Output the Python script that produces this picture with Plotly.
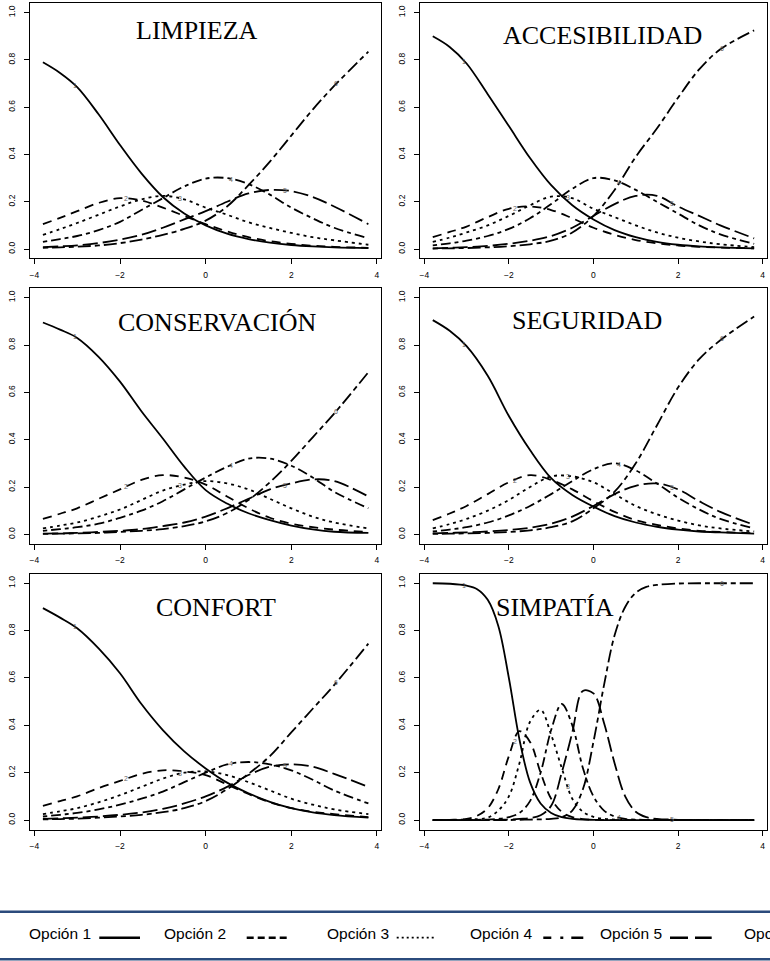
import numpy as np
import plotly.graph_objects as go

# ---------------- data ----------------
THETA = [-3.8, -3.4, -3, -2.5, -2, -1.5, -1, -0.5, 0, 0.5, 1, 1.5, 2, 2.5, 3, 3.8]
THETA_S = [-3.8, -3.4, -3, -2.75, -2.5, -2.25, -2, -1.75, -1.5, -1.25, -1, -0.75, -0.5,
           -0.25, 0, 0.25, 0.5, 0.75, 1, 1.25, 1.5, 2, 2.5, 3, 3.8]

OPTIONS = ["Opción 1", "Opción 2", "Opción 3", "Opción 4", "Opción 5", "Opción 6"]
X_TICKS = [-4, -2, 0, 2, 4]
Y_TICKS = [0, 0.2, 0.4, 0.6, 0.8, 1.0]
CURVE_LABELS = ["1", "2", "3", "4", "5", "6"]
LABEL_THETA = [-3.05, -1.85, -0.6, 0.6, 1.85, 3.05]

LIMPIEZA_1 = [0.79, 0.745, 0.685, 0.57, 0.44, 0.32, 0.22, 0.15, 0.10, 0.065, 0.042, 0.027, 0.017, 0.011, 0.007, 0.004]
LIMPIEZA_2 = [0.105, 0.132, 0.16, 0.195, 0.215, 0.205, 0.175, 0.14, 0.105, 0.075, 0.05, 0.033, 0.022, 0.014, 0.009, 0.005]
LIMPIEZA_3 = [0.06, 0.084, 0.11, 0.145, 0.18, 0.21, 0.225, 0.21, 0.175, 0.145, 0.113, 0.089, 0.068, 0.05, 0.037, 0.018]
LIMPIEZA_4 = [0.03, 0.042, 0.055, 0.08, 0.115, 0.165, 0.215, 0.265, 0.298, 0.30, 0.275, 0.23, 0.175, 0.13, 0.09, 0.045]
LIMPIEZA_5 = [0.008, 0.011, 0.015, 0.025, 0.04, 0.06, 0.09, 0.125, 0.16, 0.2, 0.235, 0.25, 0.245, 0.22, 0.18, 0.105]
LIMPIEZA_6 = [0.005, 0.007, 0.01, 0.015, 0.025, 0.04, 0.06, 0.085, 0.12, 0.18, 0.27, 0.37, 0.48, 0.59, 0.69, 0.835]

ACCES_1 = [0.90, 0.855, 0.785, 0.655, 0.52, 0.385, 0.27, 0.185, 0.125, 0.08, 0.05, 0.03, 0.018, 0.011, 0.007, 0.003]
ACCES_2 = [0.05, 0.072, 0.095, 0.135, 0.17, 0.18, 0.165, 0.13, 0.09, 0.06, 0.038, 0.024, 0.015, 0.009, 0.006, 0.003]
ACCES_3 = [0.03, 0.048, 0.07, 0.10, 0.14, 0.185, 0.222, 0.215, 0.17, 0.135, 0.10, 0.07, 0.048, 0.032, 0.02, 0.008]
ACCES_4 = [0.015, 0.024, 0.035, 0.055, 0.085, 0.13, 0.19, 0.255, 0.30, 0.29, 0.25, 0.2, 0.15, 0.1, 0.062, 0.022]
ACCES_5 = [0.003, 0.005, 0.008, 0.013, 0.022, 0.035, 0.055, 0.09, 0.14, 0.19, 0.225, 0.225, 0.18, 0.14, 0.1, 0.045]
ACCES_6 = [0.002, 0.003, 0.004, 0.007, 0.012, 0.02, 0.035, 0.07, 0.14, 0.25, 0.39, 0.51, 0.64, 0.76, 0.845, 0.925]

CONSERV_1 = [0.895, 0.865, 0.83, 0.75, 0.645, 0.52, 0.405, 0.286, 0.187, 0.13, 0.089, 0.06, 0.037, 0.021, 0.011, 0.006]
CONSERV_2 = [0.065, 0.087, 0.11, 0.15, 0.19, 0.23, 0.25, 0.24, 0.21, 0.16, 0.11, 0.07, 0.045, 0.03, 0.02, 0.01]
CONSERV_3 = [0.025, 0.037, 0.05, 0.075, 0.105, 0.145, 0.185, 0.21, 0.225, 0.215, 0.19, 0.15, 0.11, 0.075, 0.05, 0.025]
CONSERV_4 = [0.015, 0.022, 0.03, 0.045, 0.07, 0.1, 0.14, 0.19, 0.24, 0.285, 0.32, 0.32, 0.29, 0.24, 0.18, 0.11]
CONSERV_5 = [0.003, 0.004, 0.006, 0.01, 0.015, 0.022, 0.035, 0.05, 0.075, 0.11, 0.15, 0.19, 0.215, 0.232, 0.225, 0.16]
CONSERV_6 = [0.002, 0.003, 0.004, 0.006, 0.01, 0.015, 0.022, 0.035, 0.055, 0.09, 0.145, 0.22, 0.31, 0.41, 0.51, 0.685]

SEGUR_1 = [0.905, 0.86, 0.795, 0.67, 0.50, 0.356, 0.237, 0.166, 0.117, 0.077, 0.05, 0.032, 0.02, 0.012, 0.008, 0.003]
SEGUR_2 = [0.06, 0.088, 0.12, 0.17, 0.22, 0.25, 0.23, 0.19, 0.14, 0.095, 0.06, 0.04, 0.025, 0.015, 0.01, 0.005]
SEGUR_3 = [0.025, 0.043, 0.065, 0.10, 0.145, 0.2, 0.245, 0.245, 0.22, 0.17, 0.12, 0.085, 0.058, 0.038, 0.025, 0.012]
SEGUR_4 = [0.012, 0.02, 0.03, 0.05, 0.08, 0.12, 0.17, 0.225, 0.275, 0.30, 0.27, 0.215, 0.155, 0.105, 0.065, 0.025]
SEGUR_5 = [0.004, 0.006, 0.008, 0.012, 0.018, 0.028, 0.045, 0.075, 0.12, 0.17, 0.205, 0.215, 0.19, 0.14, 0.095, 0.04]
SEGUR_6 = [0.002, 0.003, 0.004, 0.006, 0.01, 0.017, 0.03, 0.055, 0.11, 0.18, 0.30, 0.46, 0.62, 0.74, 0.82, 0.92]

CONFORT_1 = [0.895, 0.855, 0.81, 0.725, 0.62, 0.49, 0.38, 0.29, 0.218, 0.158, 0.113, 0.077, 0.05, 0.032, 0.021, 0.01]
CONFORT_2 = [0.06, 0.08, 0.10, 0.135, 0.165, 0.195, 0.21, 0.205, 0.19, 0.15, 0.11, 0.075, 0.05, 0.035, 0.025, 0.012]
CONFORT_3 = [0.025, 0.037, 0.05, 0.075, 0.105, 0.14, 0.175, 0.2, 0.205, 0.19, 0.16, 0.125, 0.09, 0.065, 0.045, 0.025]
CONFORT_4 = [0.015, 0.022, 0.03, 0.045, 0.065, 0.09, 0.12, 0.16, 0.2, 0.235, 0.245, 0.235, 0.21, 0.17, 0.125, 0.07]
CONFORT_5 = [0.005, 0.007, 0.01, 0.015, 0.022, 0.032, 0.047, 0.07, 0.1, 0.14, 0.19, 0.225, 0.235, 0.225, 0.195, 0.14]
CONFORT_6 = [0.003, 0.004, 0.006, 0.01, 0.015, 0.022, 0.033, 0.05, 0.08, 0.13, 0.195, 0.27, 0.37, 0.47, 0.57, 0.745]

SIMPATIA_1 = [1.0, 0.998, 0.99, 0.975, 0.93, 0.82, 0.6, 0.34, 0.16, 0.07, 0.03, 0.012, 0.005,
              0.002, 0.001, 0, 0, 0, 0, 0, 0, 0, 0, 0, 0]
SIMPATIA_2 = [0, 0.001, 0.005, 0.018, 0.05, 0.13, 0.27, 0.375, 0.33, 0.2, 0.09, 0.035, 0.012,
              0.004, 0.001, 0, 0, 0, 0, 0, 0, 0, 0, 0, 0]
SIMPATIA_3 = [0, 0, 0.002, 0.004, 0.01, 0.04, 0.1, 0.24, 0.415, 0.465, 0.36, 0.22, 0.09,
              0.035, 0.013, 0.005, 0.002, 0, 0, 0, 0, 0, 0, 0, 0]
SIMPATIA_4 = [0, 0, 0, 0.001, 0.002, 0.005, 0.012, 0.03, 0.08, 0.2, 0.38, 0.49, 0.4,
              0.22, 0.1, 0.04, 0.015, 0.005, 0.002, 0, 0, 0, 0, 0, 0]
SIMPATIA_5 = [0, 0, 0, 0, 0, 0.001, 0.002, 0.005, 0.008, 0.02, 0.06, 0.2, 0.37,
              0.545, 0.535, 0.41, 0.24, 0.1, 0.035, 0.012, 0.005, 0.001, 0, 0, 0]
SIMPATIA_6 = [0, 0, 0, 0, 0, 0, 0, 0.001, 0.002, 0.003, 0.005, 0.012, 0.04,
              0.13, 0.33, 0.57, 0.78, 0.9, 0.96, 0.985, 0.993, 0.999, 1.0, 1.0, 1.0]

PANEL_TITLES = ["LIMPIEZA", "ACCESIBILIDAD", "CONSERVACIÓN", "SEGURIDAD", "CONFORT", "SIMPATÍA"]
PANEL_THETA = [THETA, THETA, THETA, THETA, THETA, THETA_S]
PANEL_SERIES = [
    [LIMPIEZA_1, LIMPIEZA_2, LIMPIEZA_3, LIMPIEZA_4, LIMPIEZA_5, LIMPIEZA_6],
    [ACCES_1, ACCES_2, ACCES_3, ACCES_4, ACCES_5, ACCES_6],
    [CONSERV_1, CONSERV_2, CONSERV_3, CONSERV_4, CONSERV_5, CONSERV_6],
    [SEGUR_1, SEGUR_2, SEGUR_3, SEGUR_4, SEGUR_5, SEGUR_6],
    [CONFORT_1, CONFORT_2, CONFORT_3, CONFORT_4, CONFORT_5, CONFORT_6],
    [SIMPATIA_1, SIMPATIA_2, SIMPATIA_3, SIMPATIA_4, SIMPATIA_5, SIMPATIA_6],
]

# ---------------- layout / style ----------------
W, H = 770, 961
TITLE_POS = [(-0.21, 0.923), (0.214, 0.902), (0.276, 0.896),
             (-0.148, 0.902), (0.249, 0.898), (-0.909, 0.898)]
COL_PX = [(29.9, 381.4), (419.9, 767.0)]
ROW_PX = [(3.25, 258.45), (288.2, 543.8), (573.8, 829.5)]
DASHES = ["solid", "9px,6px", "3px,4px", "4px,4px,10px,4px", "15px,5px", "5px,4px,13px,4px"]
LINE_W = 1.8
TICK_FONT = dict(family="Liberation Sans, Arial, Helvetica", size=8.5, color="black")
TITLE_FONT = dict(family="Liberation Serif, Times New Roman, serif", size=26, color="black")
LABEL_FONT = dict(family="Liberation Sans, Arial", size=7, color="#666666")
LEG_FONT = dict(family="Liberation Sans, Arial", size=15.5, color="black")
BLUE = "#2b4b7c"

fig = go.Figure()
layout = dict(width=W, height=H, margin=dict(l=0, r=0, t=0, b=0),
              paper_bgcolor="white", plot_bgcolor="white", showlegend=False)
annotations = []
shapes = []

for i in range(6):
    r, c = divmod(i, 2)
    sfx = "" if i == 0 else str(i + 1)
    xa, ya = "x" + sfx, "y" + sfx
    theta = PANEL_THETA[i]
    for k in range(6):
        fig.add_trace(go.Scatter(
            x=theta, y=PANEL_SERIES[i][k], mode="lines", name=OPTIONS[k],
            line=dict(color="black", width=LINE_W, dash=DASHES[k], shape="spline", smoothing=1.0),
            xaxis=xa, yaxis=ya, hoverinfo="skip"))
        ly = float(np.interp(LABEL_THETA[k], theta, PANEL_SERIES[i][k]))
        annotations.append(dict(x=LABEL_THETA[k], y=ly, xref=xa, yref=ya, text=CURVE_LABELS[k],
                                showarrow=False, font=LABEL_FONT, xanchor="center", yanchor="middle"))
    x0, x1 = COL_PX[c]
    y0, y1 = ROW_PX[r]
    common = dict(showline=True, mirror=True, linecolor="black", linewidth=1, ticks="outside",
                  ticklen=5, tickwidth=1, tickcolor="black", showgrid=False, zeroline=False,
                  tickfont=TICK_FONT, fixedrange=True)
    layout["xaxis" + sfx] = dict(domain=[x0 / W, x1 / W], range=[-4.104, 4.104], anchor=ya,
                                 tickvals=X_TICKS, ticklabelstandoff=3, **common)
    layout["yaxis" + sfx] = dict(domain=[1 - y1 / H, 1 - y0 / H], range=[-0.04, 1.04], anchor=xa,
                                 tickvals=Y_TICKS, tickformat=".1f", tickangle=-90,
                                 ticklabelstandoff=6, **common)
    tx, ty = TITLE_POS[i]
    annotations.append(dict(x=tx, y=ty, xref=xa, yref=ya, text=PANEL_TITLES[i], showarrow=False,
                            font=TITLE_FONT, xanchor="center", yanchor="middle"))

# ---------------- bottom legend strip ----------------
shapes.append(dict(type="line", xref="paper", yref="paper", x0=0, x1=1,
                   y0=1 - 911.7 / H, y1=1 - 911.7 / H, line=dict(color=BLUE, width=2.5)))
shapes.append(dict(type="line", xref="paper", yref="paper", x0=0, x1=1,
                   y0=1 - 959.3 / H, y1=1 - 959.3 / H, line=dict(color=BLUE, width=2.5)))
LEG_TEXT_X = [27.3, 162.3, 325.0, 468.3, 598.3, 741.7]
LEG_SAMPLE = [(99.3, 140.0, "solid", 2.4), (246.7, 286.7, "7px,4px", 2.4),
              (396.7, 435.0, "2px,3px", 1.8), (543.3, 583.3, "8px,9px,3px,8px,12px,60px", 2.4),
              (670.0, 711.7, "18px,7px,17px,60px", 2.4)]
for k in range(6):
    annotations.append(dict(x=LEG_TEXT_X[k] / W, y=1 - 933.3 / H, xref="paper", yref="paper",
                            text=OPTIONS[k], showarrow=False, font=LEG_FONT,
                            xanchor="left", yanchor="middle"))
for (sx0, sx1, dash, wdt) in LEG_SAMPLE:
    shapes.append(dict(type="line", xref="paper", yref="paper", x0=sx0 / W, x1=sx1 / W,
                       y0=1 - 937.7 / H, y1=1 - 937.7 / H, line=dict(color="black", width=wdt, dash=dash)))

layout["annotations"] = annotations
layout["shapes"] = shapes
fig.update_layout(**layout)
fig.write_html("out.html", config={"displayModeBar": False})
